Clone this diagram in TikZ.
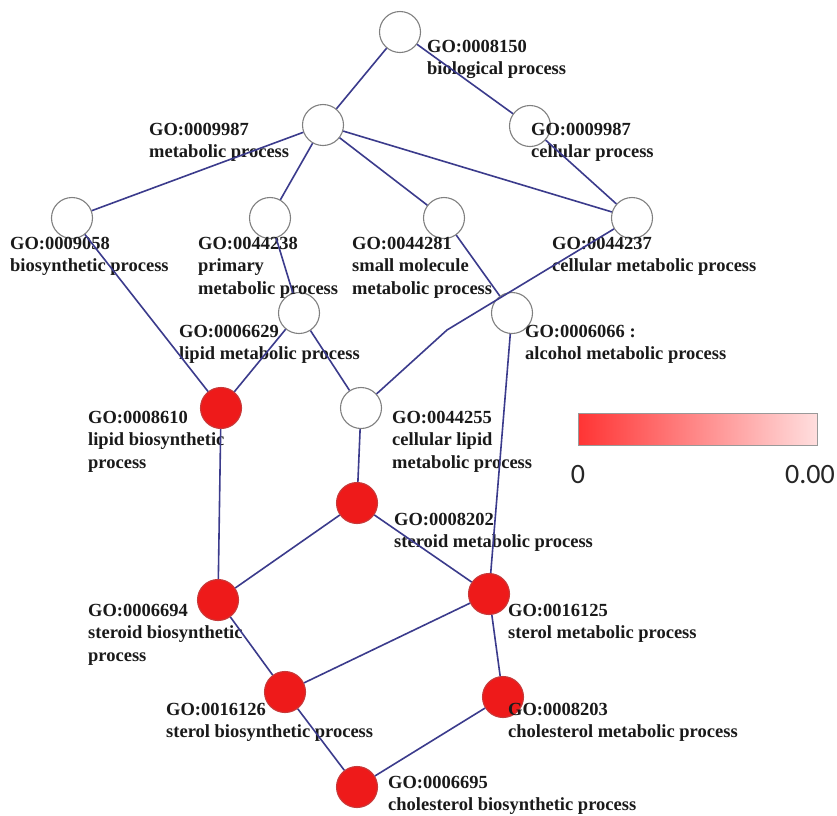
\documentclass[tikz,border=0pt]{standalone}
\usepackage{fontspec}
\setmainfont{Liberation Serif}
\newfontfamily\barfont{Carlito}
\definecolor{edgec}{HTML}{3B3B8C}
\definecolor{txt}{HTML}{1A1A1A}
\definecolor{nodered}{HTML}{EE1A1A}
\definecolor{redrim}{HTML}{C83A3A}
\definecolor{grayrim}{HTML}{808080}
\definecolor{barleft}{HTML}{FF3434}
\definecolor{barright}{HTML}{FFDEDE}
\begin{document}
\begin{tikzpicture}[x=1pt,y=-1pt,
  term/.style={circle, minimum size=41pt, inner sep=0pt, line width=1.1pt},
  plain/.style={term, draw=grayrim, fill=white},
  hit/.style={term, draw=redrim, fill=nodered},
  lab/.style={anchor=base west, inner sep=0pt, text=txt, font=\fontsize{18.5}{22.5}\selectfont\bfseries},
  link/.style={draw=edgec, line width=1.6pt},
  barlab/.style={anchor=base, inner sep=0pt, text=black!85, font=\barfont\fontsize{28}{30}\selectfont}]
\useasboundingbox (0,0) rectangle (837,815);
\fill[white] (0,0) rectangle (837,815);

% terms
\node[plain] (BP)  at (400,32)  {};
\node[plain] (MP)  at (323,125) {};
\node[plain] (CP)  at (530,126) {};
\node[plain] (BS)  at (72,218)  {};
\node[plain] (PM)  at (270,218) {};
\node[plain] (SM)  at (444,218) {};
\node[plain] (CM)  at (632,218) {};
\node[plain] (LM)  at (299,313) {};
\node[plain] (AL)  at (512,313) {};
\node[hit]   (LB)  at (221,408) {};
\node[plain] (CL)  at (361,408) {};
\node[hit]   (SMP) at (357,503) {};
\node[hit]   (SB)  at (218,600) {};
\node[hit]   (STM) at (489,594) {};
\node[hit]   (STB) at (285,692) {};
\node[hit]   (CHM) at (503,697) {};
\node[hit]   (CB)  at (357,787) {};
\coordinate (kink) at (447,330);

% labels
\node[lab] (lBP)  at (427,52)  {\vtop{\hbox{GO:0008150}\hbox{biological process}}};
\node[lab] (lCP)  at (531,135) {\vtop{\hbox{GO:0009987}\hbox{cellular process}}};
\node[lab] (lMP)  at (149,135) {\vtop{\hbox{GO:0009987}\hbox{metabolic process}}};
\node[lab] (lBS)  at (10,249)  {\vtop{\hbox{GO:0009058}\hbox{biosynthetic process}}};
\node[lab] (lPM)  at (198,249) {\vtop{\hbox{GO:0044238}\hbox{primary}\hbox{metabolic process}}};
\node[lab] (lSM)  at (352,249) {\vtop{\hbox{GO:0044281}\hbox{small molecule}\hbox{metabolic process}}};
\node[lab] (lCM)  at (552,249) {\vtop{\hbox{GO:0044237}\hbox{cellular metabolic process}}};
\node[lab] (lLM)  at (179,337) {\vtop{\hbox{GO:0006629}\hbox{lipid metabolic process}}};
\node[lab] (lAL)  at (525,337) {\vtop{\hbox{GO:0006066 :}\hbox{alcohol metabolic process}}};
\node[lab] (lLB)  at (88,423)  {\vtop{\hbox{GO:0008610}\hbox{lipid biosynthetic}\hbox{process}}};
\node[lab] (lCL)  at (392,423) {\vtop{\hbox{GO:0044255}\hbox{cellular lipid}\hbox{metabolic process}}};
\node[lab] (lSMP) at (394,525) {\vtop{\hbox{GO:0008202}\hbox{steroid metabolic process}}};
\node[lab] (lSB)  at (88,616)  {\vtop{\hbox{GO:0006694}\hbox{steroid biosynthetic}\hbox{process}}};
\node[lab] (lSTM) at (508,616) {\vtop{\hbox{GO:0016125}\hbox{sterol metabolic process}}};
\node[lab] (lSTB) at (166,715) {\vtop{\hbox{GO:0016126}\hbox{sterol biosynthetic process}}};
\node[lab] (lCHM) at (508,715) {\vtop{\hbox{GO:0008203}\hbox{cholesterol metabolic process}}};
\node[lab] (lCB)  at (388,788) {\vtop{\hbox{GO:0006695}\hbox{cholesterol biosynthetic process}}};

% links
\path[link] (BP) -- (MP);
\path[link] (BP) -- (CP);
\path[link] (CP) -- (CM);
\path[link] (MP) -- (BS);
\path[link] (MP) -- (PM);
\path[link] (MP) -- (SM);
\path[link] (MP) -- (CM);
\path[link] (BS) -- (LB);
\path[link] (PM) -- (LM);
\path[link] (SM) -- (AL);
\path[link] (CM) -- (kink) -- (CL);
\path[link] (LM) -- (LB);
\path[link] (LM) -- (CL);
\path[link] (LB) -- (SB);
\path[link] (CL) -- (SMP);
\path[link] (AL) -- (STM);
\path[link] (SMP) -- (SB);
\path[link] (SMP) -- (STM);
\path[link] (SB) -- (STB);
\path[link] (STB) -- (STM);
\path[link] (STM) -- (CHM);
\path[link] (STB) -- (CB);
\path[link] (CHM) -- (CB);

% colour scale
\shade[left color=barleft, right color=barright] (578,413) rectangle (817,445);
\draw[black!40, line width=0.8pt] (578,413) rectangle (817,445);
\node[barlab] (zero) at (578,483) {0};
\node[barlab, anchor=base east] (top) at (835,483) {0.00};
\end{tikzpicture}
\end{document}
